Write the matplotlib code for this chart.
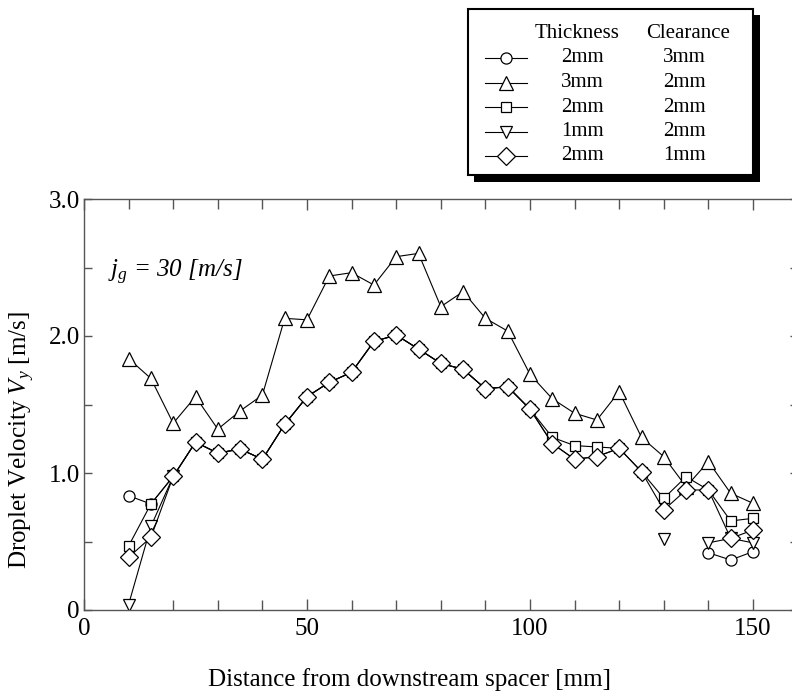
import numpy as np
import matplotlib
matplotlib.use('Agg')
import matplotlib.pyplot as plt
from matplotlib.patches import Rectangle
from matplotlib.ticker import MultipleLocator, FuncFormatter

plt.rcParams['font.family'] = ['Liberation Serif', 'DejaVu Serif']
plt.rcParams['mathtext.fontset'] = 'custom'
plt.rcParams['mathtext.rm'] = 'Liberation Serif'
plt.rcParams['mathtext.it'] = 'Liberation Serif:italic'

nan = np.nan

# distance from downstream spacer [mm]
dist = [10, 15, 20, 25, 30, 35, 40, 45, 50, 55, 60, 65, 70, 75, 80,
        85, 90, 95, 100, 105, 110, 115, 120, 125, 130, 135, 140, 145, 150]

# droplet velocity [m/s], one list per spacer (thickness / clearance)
v_t2_c3 = [0.834, 0.774, 0.975, 1.225, 1.145, 1.175, 1.10, 1.355, 1.557, 1.662,
           1.735, 1.96, 2.007, 1.905, 1.80, 1.757, 1.615, 1.63, 1.466, 1.215,
           1.10, 1.12, 1.18, nan, nan, nan, 0.418, 0.365, 0.426]
v_t3_c2 = [1.835, 1.69, 1.363, 1.557, 1.32, 1.453, 1.569, 2.129, 2.118, 2.438,
           2.462, 2.372, 2.579, 2.603, 2.214, 2.324, 2.129, 2.036, 1.72, 1.542,
           1.436, 1.387, 1.594, 1.26, 1.119, 0.90, 1.083, 0.852, 0.779]
v_t2_c2 = [0.467, 0.774, 0.975, 1.225, 1.145, 1.175, 1.10, 1.355, 1.557, 1.662,
           1.735, 1.96, 2.007, 1.905, 1.80, 1.757, 1.615, 1.63, 1.466, 1.26,
           1.20, 1.19, 1.18, 1.01, 0.815, 0.973, 0.876, 0.65, 0.669]
v_t1_c2 = [0.04, 0.61, 0.975, nan, nan, nan, nan, nan, nan, nan,
           nan, nan, nan, nan, nan, nan, nan, nan, nan, nan,
           nan, nan, nan, nan, 0.52, nan, 0.49, 0.523, 0.49]
v_t2_c1 = [0.385, 0.53, 0.975, 1.225, 1.145, 1.175, 1.10, 1.355, 1.557, 1.662,
           1.735, 1.96, 2.007, 1.905, 1.80, 1.757, 1.615, 1.63, 1.466, 1.215,
           1.10, 1.12, 1.18, 1.01, 0.73, 0.876, 0.876, 0.523, 0.584]

thickness = ['2mm', '3mm', '2mm', '1mm', '2mm']
clearance = ['3mm', '2mm', '2mm', '2mm', '1mm']
series = [v_t2_c3, v_t3_c2, v_t2_c2, v_t1_c2, v_t2_c1]
markers = ['o', '^', 's', 'v', 'D']
msizes = [8, 9.5, 7.5, 8.8, 8.8]

fig = plt.figure(figsize=(7.92, 6.98), dpi=100)
# frame runs a little past the right edge, as in the original scan
ax = fig.add_axes([84/792, 88/698, 713.6/792, 411/698])

for vals, m, ms in zip(series, markers, msizes):
    ax.plot(dist, vals, color='black', lw=0.8, marker=m, ms=ms,
            mfc='white', mec='black', mew=0.9)

ax.set_xlim(0, 160)
ax.set_ylim(0, 3)
ax.xaxis.set_major_locator(MultipleLocator(50))
ax.xaxis.set_minor_locator(MultipleLocator(10))
ax.yaxis.set_major_locator(MultipleLocator(1))
ax.yaxis.set_minor_locator(MultipleLocator(0.5))
ax.xaxis.set_major_formatter(FuncFormatter(lambda v, p: '%d' % v))
ax.yaxis.set_major_formatter(FuncFormatter(lambda v, p: '0' if v == 0 else '%.1f' % v))

ax.tick_params(which='both', direction='in', top=True, right=True,
               color='#555555', width=1.0, labelsize=18)
ax.tick_params(axis='x', which='major', length=8, pad=6)
ax.tick_params(axis='x', which='minor', length=7)
ax.tick_params(axis='y', which='major', length=6, pad=3)
ax.tick_params(axis='y', which='minor', length=5.5)
for s in ax.spines.values():
    s.set_color('#555555')
    s.set_linewidth(1.0)

ax.set_xlabel('Distance from downstream spacer [mm]', fontsize=18)
ax.xaxis.set_label_coords((410 - 84) / 713.6, -(680 - 610) / 411)
ax.xaxis.label.set_va('center')
ax.set_ylabel(r'Droplet Velocity $V_y$ [m/s]', fontsize=18)
ax.yaxis.set_label_coords(-(84 - 22) / 713.6, (610 - 440) / 411)
ax.yaxis.label.set_va('center')

ax.text(0.033, 0.822, r'$j_g$ = 30 [m/s]', transform=ax.transAxes,
        fontsize=18, style='italic', va='center', ha='left')

# legend box drawn in pixel units
lg = fig.add_axes([466/792, 1 - 186/698, (762 - 466)/792, (186 - 6)/698])
lg.set_xlim(466, 762)
lg.set_ylim(186, 6)
lg.axis('off')
lg.add_patch(Rectangle((474, 15), 286, 167, fc='black', ec='none'))
lg.add_patch(Rectangle((468, 9), 285, 166, fc='white', ec='black', lw=1.5))
lg.text(577, 33, 'Thickness', fontsize=15, ha='center', va='center')
lg.text(688, 33, 'Clearance', fontsize=15, ha='center', va='center')
row_y = [58, 82.5, 107, 131.5, 156]
for i in range(5):
    lg.plot([485, 506, 527], [row_y[i]] * 3, color='black', lw=0.8,
            marker=markers[i], ms=msizes[i], markevery=[1],
            mfc='white', mec='black', mew=0.9)
    lg.text(582, row_y[i], thickness[i], fontsize=15, ha='center', va='center')
    lg.text(684, row_y[i], clearance[i], fontsize=15, ha='center', va='center')

fig.savefig('out.png', dpi=100)
